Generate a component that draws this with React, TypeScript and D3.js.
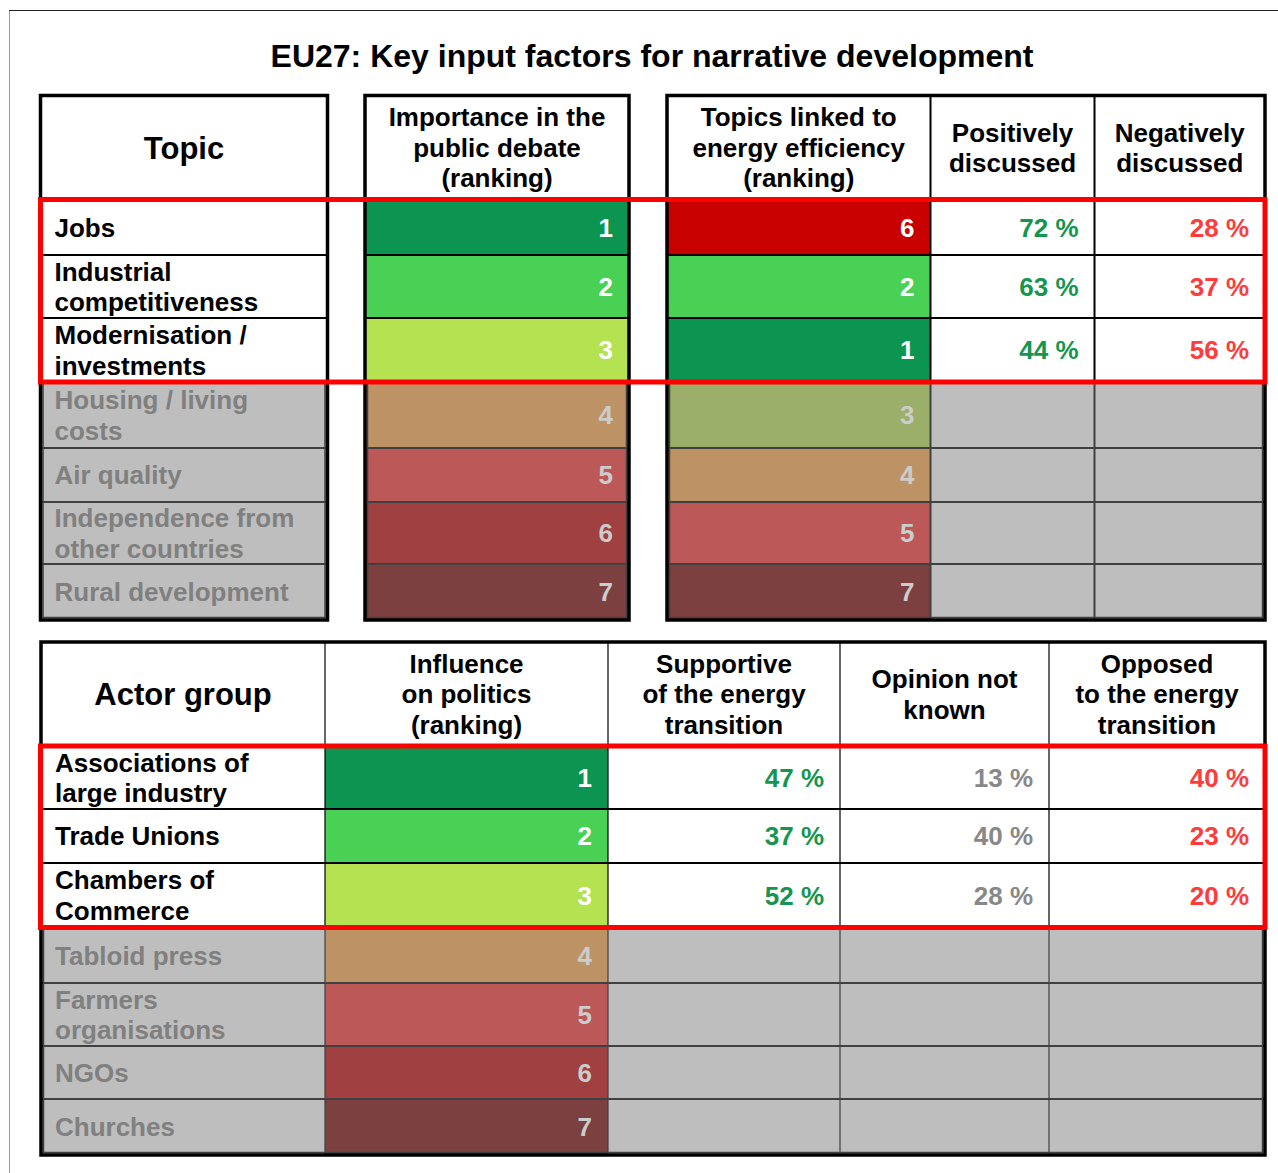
import React from 'react';
import * as d3 from 'd3';

// ---- data ----
const titleText = 'EU27: Key input factors for narrative development';

const topicLabels = [
  ['Jobs'],
  ['Industrial', 'competitiveness'],
  ['Modernisation /', 'investments'],
  ['Housing / living', 'costs'],
  ['Air quality'],
  ['Independence from', 'other countries'],
  ['Rural development'],
];
const importanceRank = [1, 2, 3, 4, 5, 6, 7];
const efficiencyRank = [6, 2, 1, 3, 4, 5, 7];
const positivelyDiscussed = [72, 63, 44];
const negativelyDiscussed = [28, 37, 56];

const actorLabels = [
  ['Associations of', 'large industry'],
  ['Trade Unions'],
  ['Chambers of', 'Commerce'],
  ['Tabloid press'],
  ['Farmers', 'organisations'],
  ['NGOs'],
  ['Churches'],
];
const influenceRank = [1, 2, 3, 4, 5, 6, 7];
const supportiveShare = [47, 37, 52];
const unknownShare = [13, 40, 28];
const opposedShare = [40, 23, 20];

const topicHeader = ['Topic'];
const importanceHeader = ['Importance in the', 'public debate', '(ranking)'];
const efficiencyHeader = ['Topics linked to', 'energy efficiency', '(ranking)'];
const positiveHeader = ['Positively', 'discussed'];
const negativeHeader = ['Negatively', 'discussed'];
const actorHeader = ['Actor group'];
const influenceHeader = ['Influence', 'on politics', '(ranking)'];
const supportiveHeader = ['Supportive', 'of the energy', 'transition'];
const unknownHeader = ['Opinion not', 'known'];
const opposedHeader = ['Opposed', 'to the energy', 'transition'];

const highlightedRows = 3;

// ---- colours ----
const ranks = [1, 2, 3, 4, 5, 6, 7];
const brightColors = ['#0b9550', '#48d154', '#b5e250', '#bd9366', '#bd5858', '#c80000', '#7d4040'];
const mutedColors = ['#0b9550', '#48d154', '#9bae6a', '#bd9366', '#bd5858', '#a04040', '#7d4040'];
const brightScale = d3.scaleOrdinal<number, string>().domain(ranks).range(brightColors);
const mutedScale = d3.scaleOrdinal<number, string>().domain(ranks).range(mutedColors);

const GREEN = '#149650';
const RED = '#ff3c3c';
const GREY_TEXT = '#888888';
const GREY_FILL = '#bebebe';
const GREY_LINE = '#404040';

// ---- layout ----
const W = 1278;
const H = 1173;
const FONT = "'Liberation Sans', Arial, Helvetica, sans-serif";
const FS = 26;
const LH = 30.5;

const topTop = 95.5;
const topRowEdges = [199.5, 255, 318, 382, 448, 502, 564, 620];
const bottomTop = 642;
const bottomRowEdges = [746, 809, 863, 927.5, 983, 1046, 1099, 1155];

const t1 = [40.5, 327.5];
const t2 = [365, 629];
const t3 = [667, 930.5, 1094.5, 1265];
const bCols = [41, 325, 608, 840, 1049, 1265];

const pct = (v: number) => `${v} %`;

function Lines({ lines, x, cy, anchor, size, color }:
  { lines: string[]; x: number; cy: number; anchor: string; size: number; color: string }) {
  const first = cy - ((lines.length - 1) * LH) / 2 + size * 0.358;
  return (
    <text x={x} y={first} textAnchor={anchor} fontSize={size} fontWeight="bold"
      fontFamily={FONT} fill={color}>
      {lines.map((l, i) => (
        <tspan key={i} x={x} y={first + i * LH}>{l}</tspan>
      ))}
    </text>
  );
}

type Col = {
  x0: number;
  x1: number;
  header: string[];
  headerSize?: number;
  kind: 'label' | 'rank' | 'value';
  labels?: string[][];
  rank?: number[];
  values?: number[];
  color?: string;
};

function Table({ cols, top, edges, thin }:
  { cols: Col[]; top: number; edges: number[]; thin: number }) {
  const bands = d3.pairs(edges);
  const x0 = cols[0].x0;
  const x1 = cols[cols.length - 1].x1;
  const bottom = edges[edges.length - 1];
  const headerMid = (top + edges[0]) / 2;
  return (
    <g>
      <rect x={x0} y={top} width={x1 - x0} height={edges[0] - top} fill="#fff" />
      {cols.map((c, ci) => (
        <g key={ci}>
          {bands.map(([y0, y1], i) => {
            const hl = i < highlightedRows;
            let fill = hl ? '#fff' : GREY_FILL;
            if (c.kind === 'rank') fill = hl ? brightScale(c.rank![i]) : mutedScale(c.rank![i]);
            return <rect key={i} x={c.x0} y={y0} width={c.x1 - c.x0} height={y1 - y0} fill={fill} />;
          })}
          <Lines lines={c.header} x={(c.x0 + c.x1) / 2} cy={headerMid} anchor="middle"
            size={c.headerSize ?? FS} color="#000" />
          {bands.map(([y0, y1], i) => {
            const hl = i < highlightedRows;
            const cy = (y0 + y1) / 2;
            if (c.kind === 'label') {
              return <Lines key={i} lines={c.labels![i]} x={x0 + 14} cy={cy} anchor="start"
                size={FS} color={hl ? '#000' : '#808080'} />;
            }
            if (c.kind === 'rank') {
              return <Lines key={i} lines={[String(c.rank![i])]} x={c.x1 - 16} cy={cy}
                anchor="end" size={FS} color={hl ? '#fff' : '#cccccc'} />;
            }
            if (c.values && i < c.values.length) {
              return <Lines key={i} lines={[pct(c.values[i])]} x={c.x1 - 16} cy={cy}
                anchor="end" size={FS} color={c.color!} />;
            }
            return null;
          })}
        </g>
      ))}
      {/* row separators */}
      {edges.slice(1, -1).map((y, i) => (
        <line key={i} x1={x0} x2={x1} y1={y} y2={y}
          stroke={i < highlightedRows ? '#000' : GREY_LINE} strokeWidth={1.8} />
      ))}
      {/* column separators */}
      {cols.slice(1).map((c, i) => (
        <g key={i}>
          <line x1={c.x0} x2={c.x0} y1={top} y2={edges[highlightedRows]} stroke="#000" strokeWidth={thin} />
          <line x1={c.x0} x2={c.x0} y1={edges[highlightedRows]} y2={bottom} stroke={GREY_LINE} strokeWidth={thin} />
        </g>
      ))}
      <line x1={x0} x2={x1} y1={edges[0]} y2={edges[0]} stroke="#000" strokeWidth={2} />
      <rect x={x0 + 2.5} y={edges[highlightedRows]} width={x1 - x0 - 5} height={bottom - edges[highlightedRows] - 2.5}
        fill="none" stroke={GREY_LINE} strokeWidth={1.5} />
      <rect x={x0} y={top} width={x1 - x0} height={bottom - top} fill="none" stroke="#000" strokeWidth={3.5} />
    </g>
  );
}

export default function App() {
  const topicCol: Col = { x0: t1[0], x1: t1[1], header: topicHeader, headerSize: 31, kind: 'label', labels: topicLabels };
  const importanceCol: Col = { x0: t2[0], x1: t2[1], header: importanceHeader, kind: 'rank', rank: importanceRank };
  const effCols: Col[] = [
    { x0: t3[0], x1: t3[1], header: efficiencyHeader, kind: 'rank', rank: efficiencyRank },
    { x0: t3[1], x1: t3[2], header: positiveHeader, kind: 'value', values: positivelyDiscussed, color: GREEN },
    { x0: t3[2], x1: t3[3], header: negativeHeader, kind: 'value', values: negativelyDiscussed, color: RED },
  ];
  const actorCols: Col[] = [
    { x0: bCols[0], x1: bCols[1], header: actorHeader, headerSize: 31, kind: 'label', labels: actorLabels },
    { x0: bCols[1], x1: bCols[2], header: influenceHeader, kind: 'rank', rank: influenceRank },
    { x0: bCols[2], x1: bCols[3], header: supportiveHeader, kind: 'value', values: supportiveShare, color: GREEN },
    { x0: bCols[3], x1: bCols[4], header: unknownHeader, kind: 'value', values: unknownShare, color: GREY_TEXT },
    { x0: bCols[4], x1: bCols[5], header: opposedHeader, kind: 'value', values: opposedShare, color: RED },
  ];

  return (
    <svg width={W} height={H} viewBox={`0 0 ${W} ${H}`}
      style={{ position: 'absolute', left: 0, top: 0, display: 'block', background: '#fff' }}>
      <rect x={0} y={0} width={W} height={H} fill="#fff" />
      <line x1={9.5} x2={9.5} y1={10} y2={H} stroke="#999" strokeWidth={1} />
      <line x1={9} x2={W} y1={10.5} y2={10.5} stroke="#222" strokeWidth={1} />

      <text x={652} y={66.5} textAnchor="middle" fontSize={32} fontWeight="bold" fontFamily={FONT}>
        {titleText}
      </text>

      <Table cols={[topicCol]} top={topTop} edges={topRowEdges} thin={2} />
      <Table cols={[importanceCol]} top={topTop} edges={topRowEdges} thin={2} />
      <Table cols={effCols} top={topTop} edges={topRowEdges} thin={2} />
      <Table cols={actorCols} top={bottomTop} edges={bottomRowEdges} thin={1.2} />

      <rect x={40.5} y={topRowEdges[0]} width={1265 - 40.5} height={topRowEdges[highlightedRows] - topRowEdges[0]}
        fill="none" stroke="#ff0000" strokeWidth={5} />
      <rect x={40.5} y={bottomRowEdges[0]} width={1265 - 40.5} height={bottomRowEdges[highlightedRows] - bottomRowEdges[0]}
        fill="none" stroke="#ff0000" strokeWidth={5} />
    </svg>
  );
}
